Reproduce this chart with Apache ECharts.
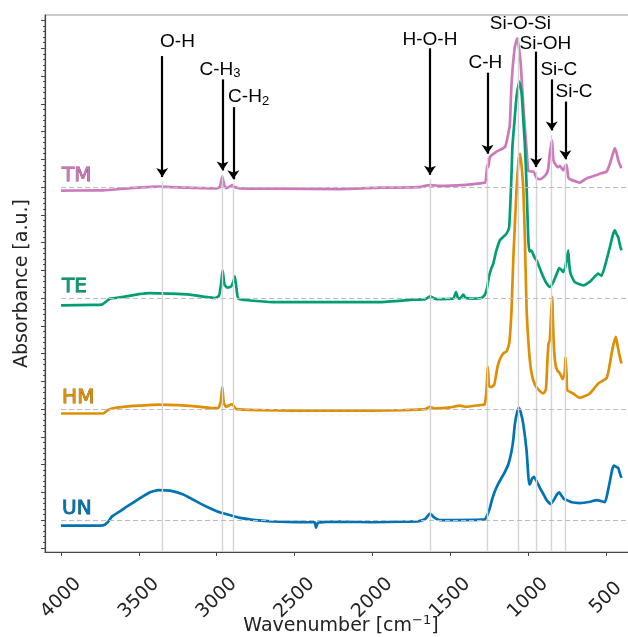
<!DOCTYPE html>
<html>
<head>
<meta charset="utf-8">
<script src="https://cdn.jsdelivr.net/npm/echarts@6/dist/echarts.min.js"></script>
<style>
  html, body { margin: 0; padding: 0; background: #fff; }
  #chart { width: 628px; height: 637px; }
</style>
</head>
<body>
<div id="chart"></div>
<script>
// FTIR spectra, [wavenumber, absorbance above the sample's own baseline]
const UN = [
  [4000, -0.05], [3900, -0.05], [3800, -0.05], [3730, -0.048], [3700, -0.02], [3674, 0.03],
  [3620, 0.08], [3578, 0.12], [3500, 0.19], [3428, 0.25], [3375, 0.27], [3300, 0.265],
  [3214, 0.23], [3160, 0.19], [3107, 0.15], [3050, 0.11], [3000, 0.08], [2930, 0.05],
  [2850, 0.02], [2750, 0.0], [2636, -0.013], [2500, -0.018], [2400, -0.02], [2370, -0.02],
  [2362, -0.07], [2350, -0.025], [2317, -0.018], [2200, -0.015], [2000, -0.02], [1800, -0.015],
  [1700, -0.01], [1660, 0.01], [1630, 0.057], [1600, 0.02], [1566, 0.0], [1450, 0.0],
  [1300, 0.003], [1275, 0.01], [1260, 0.05], [1245, 0.11], [1230, 0.19], [1213, 0.26],
  [1190, 0.33], [1170, 0.38], [1150, 0.43], [1127, 0.50], [1106, 0.62], [1095, 0.72],
  [1085, 0.86], [1070, 0.97], [1058, 1.01], [1045, 0.96], [1030, 0.86], [1009, 0.62],
  [999, 0.41], [992, 0.32], [985, 0.33], [975, 0.37], [962, 0.39], [945, 0.35],
  [924, 0.29], [900, 0.23], [881, 0.18], [855, 0.144], [835, 0.18], [815, 0.23],
  [800, 0.25], [785, 0.22], [770, 0.19], [752, 0.18], [720, 0.16], [667, 0.153],
  [600, 0.165], [560, 0.18], [530, 0.17], [506, 0.16], [490, 0.24], [474, 0.35],
  [460, 0.45], [448, 0.49], [435, 0.48], [421, 0.47], [410, 0.42], [400, 0.38]
];
const HM = [
  [4000, -0.04], [3800, -0.04], [3730, -0.04], [3700, -0.01], [3674, 0.005], [3600, 0.02],
  [3500, 0.03], [3375, 0.04], [3250, 0.035], [3100, 0.02], [3030, 0.008], [2990, 0.01],
  [2975, 0.06], [2964, 0.20], [2955, 0.06], [2940, 0.02], [2910, 0.04], [2900, 0.045],
  [2885, 0.015], [2872, 0.0], [2700, -0.01], [2500, -0.015], [2300, -0.015], [2000, -0.015],
  [1800, -0.01], [1660, 0.0], [1630, 0.02], [1600, 0.005], [1500, 0.015], [1437, 0.03],
  [1400, 0.02], [1309, 0.036], [1280, 0.04], [1268, 0.15], [1258, 0.38], [1250, 0.2],
  [1235, 0.2], [1217, 0.22], [1196, 0.38], [1180, 0.45], [1160, 0.50], [1138, 0.52],
  [1121, 0.59], [1106, 0.89], [1095, 1.34], [1085, 1.65], [1074, 1.97], [1060, 2.25],
  [1052, 2.30], [1042, 2.20], [1030, 1.97], [1020, 1.52], [1009, 0.89], [992, 0.50],
  [977, 0.32], [956, 0.22], [930, 0.17], [902, 0.14], [885, 0.18], [875, 0.45],
  [868, 0.59], [860, 0.62], [852, 0.85], [845, 1.01], [838, 0.70], [830, 0.48],
  [821, 0.38], [812, 0.35], [795, 0.32], [778, 0.27], [765, 0.32], [759, 0.47],
  [752, 0.30], [748, 0.17], [710, 0.14], [667, 0.10], [603, 0.14], [549, 0.23],
  [495, 0.28], [475, 0.40], [463, 0.50], [448, 0.60], [436, 0.65], [426, 0.58],
  [415, 0.50], [400, 0.41]
];
const TE = [
  [4000, -0.066], [3800, -0.062], [3739, -0.06], [3700, -0.02], [3685, -0.005], [3600, 0.01],
  [3500, 0.035], [3428, 0.045], [3300, 0.04], [3171, 0.03], [3011, 0.0], [2985, 0.02],
  [2970, 0.15], [2962, 0.25], [2950, 0.12], [2932, 0.094], [2915, 0.10], [2904, 0.11],
  [2890, 0.16], [2883, 0.195], [2870, 0.05], [2861, -0.005], [2800, -0.02], [2636, -0.036],
  [2400, -0.036], [2208, -0.036], [1951, -0.036], [1737, -0.015], [1660, -0.01], [1630, 0.015],
  [1600, -0.005], [1566, -0.01], [1480, -0.005], [1463, 0.054], [1450, 0.0], [1437, -0.005],
  [1416, 0.03], [1400, 0.0], [1352, -0.005], [1300, 0.0], [1277, 0.03], [1262, 0.10],
  [1250, 0.2], [1235, 0.27], [1223, 0.31], [1205, 0.42], [1181, 0.52], [1160, 0.55],
  [1138, 0.58], [1121, 0.64], [1106, 1.12], [1100, 1.37], [1085, 1.63], [1074, 1.81],
  [1056, 1.95], [1041, 1.84], [1030, 1.60], [1020, 1.37], [1009, 1.0], [999, 0.55],
  [992, 0.42], [983, 0.43], [975, 0.42], [956, 0.36], [945, 0.34], [925, 0.27],
  [902, 0.19], [880, 0.13], [860, 0.10], [838, 0.144], [815, 0.22], [800, 0.27],
  [790, 0.26], [774, 0.234], [760, 0.28], [742, 0.43], [735, 0.3], [727, 0.22],
  [700, 0.144], [645, 0.114], [600, 0.15], [549, 0.22], [528, 0.20], [500, 0.32],
  [474, 0.46], [455, 0.57], [442, 0.61], [430, 0.57], [421, 0.55], [410, 0.48], [400, 0.43]
];
const TM = [
  [4000, -0.033], [3800, -0.03], [3728, -0.03], [3600, -0.015], [3375, 0.003], [3200, -0.005],
  [3000, -0.012], [2980, 0.0], [2964, 0.093], [2950, 0.01], [2936, -0.01], [2910, 0.01],
  [2900, 0.018], [2885, 0.0], [2850, -0.012], [2600, -0.015], [2208, -0.018], [1951, -0.006],
  [1700, 0.0], [1630, 0.018], [1560, 0.01], [1400, 0.02], [1309, 0.033], [1280, 0.04],
  [1273, 0.04], [1262, 0.2], [1255, 0.18], [1245, 0.27], [1202, 0.32], [1148, 0.36],
  [1127, 0.48], [1117, 0.56], [1106, 0.93], [1085, 1.26], [1069, 1.34], [1058, 1.25],
  [1047, 1.11], [1030, 0.72], [1009, 0.33], [999, 0.15], [985, 0.14], [965, 0.14],
  [945, 0.08], [924, 0.07], [900, 0.09], [881, 0.12], [870, 0.17], [860, 0.30],
  [849, 0.40], [845, 0.42], [838, 0.25], [827, 0.21], [806, 0.18], [795, 0.19],
  [774, 0.15], [757, 0.20], [752, 0.2], [742, 0.09], [731, 0.07], [688, 0.048],
  [667, 0.04], [624, 0.078], [560, 0.108], [539, 0.12], [495, 0.14], [474, 0.21],
  [455, 0.30], [442, 0.35], [430, 0.30], [421, 0.243], [410, 0.20], [400, 0.17]
];

const sampleNames = ['UN', 'HM', 'TE', 'TM'];
const offsets = [0, 1, 2, 3];
const colors = ['#0173b2', '#de8f05', '#029e73', '#cc78bc'];
const edgeColors = ['#0b4a70', '#8a5a08', '#0b5a42', '#7d4a74'];
const xTicks = [4000, 3500, 3000, 2500, 2000, 1500, 1000, 500];

// assigned bands
const bandLabels = ['O-H', 'C-H{s|3}', 'C-H{s|2}', 'H-O-H', 'C-H', 'Si-O-Si', 'Si-OH', 'Si-C', 'Si-C'];
const bandWn = [3350, 2962, 2893, 1630, 1260, 1065, 948, 848, 760];

// where the annotation text and arrows sit (data units)
const annoLayout = [
  { tx: 3252, ty: 4.31, y0: 4.18, y1: 3.09 },
  { tx: 2979, ty: 4.06, y0: 3.97, y1: 3.15 },
  { tx: 2795, ty: 3.81, y0: 3.72, y1: 3.07 },
  { tx: 1630, ty: 4.33, y0: 4.25, y1: 3.11 },
  { tx: 1274, ty: 4.12, y0: 4.03, y1: 3.30 },
  { tx: 1049, ty: 4.47, y0: null, y1: 4.39 },
  { tx: 888, ty: 4.29, y0: 4.22, y1: 3.18 },
  { tx: 802, ty: 4.06, y0: 3.97, y1: 3.51 },
  { tx: 705, ty: 3.86, y0: 3.77, y1: 3.25 }
];

const yMin = -0.288, yMax = 4.55;
const xMin = 300, xMax = 4103;

const majorY = [];
const minorY = [];
for (let k = -5; k <= 90; k++) {
  const v = +(k * 0.05).toFixed(2);
  if (v < yMin || v > yMax) continue;
  if (k % 5 === 0) majorY.push(v); else minorY.push(v);
}

const chart = echarts.init(document.getElementById('chart'));

const series = [];
const spectra = [UN, HM, TE, TM];
// TM at the back, UN in front
[3, 2, 1, 0].forEach(i => {
  series.push({
    name: sampleNames[i],
    type: 'line',
    showSymbol: false,
    silent: true,
    z: 3,
    smooth: 0.15,
    data: spectra[i].map(p => [p[0], p[1] + offsets[i]]),
    lineStyle: { color: colors[i], width: 2.7 },
    itemStyle: { color: colors[i] }
  });
});

// grey guide lines + dashed baselines
series.push({
  type: 'line',
  data: [],
  silent: true,
  z: 1,
  markLine: {
    silent: true,
    symbol: ['none', 'none'],
    animation: false,
    label: { show: false },
    data: bandWn.map((w, j) => [
      { coord: [w, yMin], lineStyle: { color: '#d4d4d4', width: 1.4, type: 'solid' } },
      { coord: [w, annoLayout[j].y1 - 0.04] }
    ]).concat(offsets.map(o => [
      { coord: [4000, o], lineStyle: { color: '#bdbdbd', width: 1.2, type: [5, 3] } },
      { coord: [xMin, o] }
    ]))
  }
});

// sample names
series.push({
  type: 'line',
  data: [],
  silent: true,
  z: 4,
  markPoint: {
    silent: true,
    symbol: 'circle',
    symbolSize: 0,
    animation: false,
    data: sampleNames.map((n, i) => ({
      coord: [3993, offsets[i] + 0.1],
      value: n,
      label: {
        show: true,
        position: 'right',
        distance: 0,
        formatter: n,
        color: colors[i],
        fontFamily: 'DejaVu Sans',
        fontSize: 20,
        textBorderColor: edgeColors[i],
        textBorderWidth: 0.8
      }
    }))
  }
});

// arrows and band names
series.push({
  type: 'line',
  data: [],
  silent: true,
  z: 6,
  markLine: {
    silent: true,
    symbol: ['none', 'arrow'],
    symbolSize: 9,
    animation: false,
    label: { show: false },
    lineStyle: { color: '#000', width: 2.2, type: 'solid' },
    data: annoLayout.filter(a => a.y0 !== null).map(a => {
      const j = annoLayout.indexOf(a);
      return [{ coord: [bandWn[j], a.y0] }, { coord: [bandWn[j], a.y1] }];
    })
  },
  markPoint: {
    silent: true,
    symbol: 'circle',
    symbolSize: 0,
    animation: false,
    data: bandLabels.map((t, j) => ({
      coord: [annoLayout[j].tx, annoLayout[j].ty],
      value: t,
      label: {
        show: true,
        position: 'inside',
        formatter: t,
        color: '#000',
        fontFamily: 'Liberation Sans',
        fontSize: 19,
        lineHeight: 22,
        rich: {
          s: { fontFamily: 'Liberation Sans', fontSize: 13, color: '#000', lineHeight: 10, verticalAlign: 'bottom' }
        }
      }
    }))
  }
});

chart.setOption({
  animation: false,
  backgroundColor: '#fff',
  grid: {
    left: 45, top: 15, right: -9, bottom: 85,
    show: true, borderColor: '#9a9a9a', borderWidth: 1.2,
    outerBoundsMode: 'none'
  },
  xAxis: {
    type: 'value',
    inverse: true,
    min: xMin,
    max: xMax,
    name: 'Wavenumber [cm{sup|\u22121}]',
    nameLocation: 'middle',
    nameGap: 62,
    nameMoveOverlap: false,
    nameTextStyle: {
      fontFamily: 'DejaVu Sans', fontSize: 19, color: '#222', lineHeight: 24,
      rich: { sup: { fontFamily: 'DejaVu Sans', fontSize: 13, color: '#222', lineHeight: 10, verticalAlign: 'top' } }
    },
    axisLine: { show: true, onZero: false, lineStyle: { color: '#444', width: 1.2 } },
    axisTick: { show: true, length: 4, lineStyle: { color: '#444' }, customValues: xTicks },
    axisLabel: {
      customValues: xTicks,
      formatter: v => String(v),
      rotate: 45,
      align: 'center',
      verticalAlign: 'middle',
      margin: 46,
      fontFamily: 'DejaVu Sans',
      fontSize: 19,
      color: '#222'
    },
    splitLine: { show: false }
  },
  yAxis: [{
    type: 'value',
    min: yMin,
    max: yMax,
    name: 'Absorbance [a.u.]',
    nameLocation: 'middle',
    nameGap: 13,
    nameMoveOverlap: false,
    nameTextStyle: { fontFamily: 'DejaVu Sans', fontSize: 19, color: '#222' },
    axisLine: { show: true, onZero: false, lineStyle: { color: '#444', width: 1.2 } },
    axisTick: { show: true, length: 4, lineStyle: { color: '#444' }, customValues: majorY },
    axisLabel: { show: false },
    splitLine: { show: false }
  }, {
    type: 'value',
    min: yMin,
    max: yMax,
    position: 'left',
    axisLine: { show: false },
    axisTick: { show: true, length: 2, lineStyle: { color: '#444' }, customValues: minorY },
    axisLabel: { show: false },
    splitLine: { show: false }
  }],
  series: series
});
</script>
</body>
</html>
